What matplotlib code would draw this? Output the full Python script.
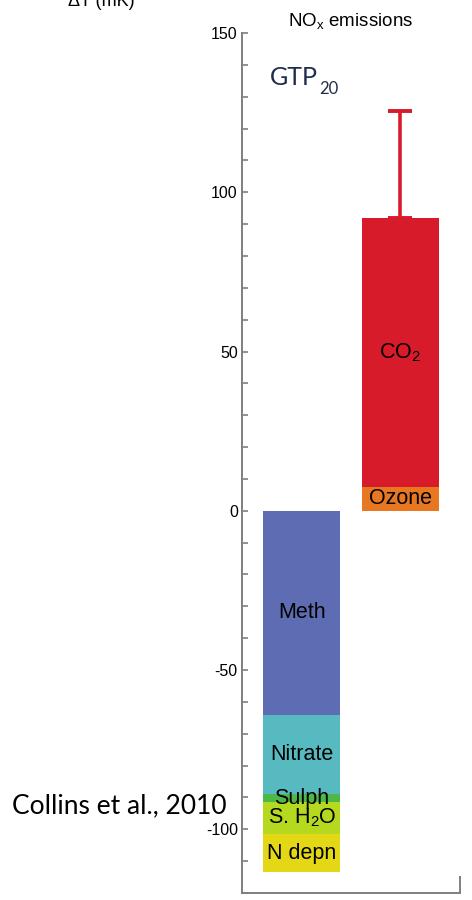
import matplotlib
matplotlib.use("Agg")
import matplotlib.pyplot as plt

# NOx emissions: GTP20 temperature response by component (mK)
neg_labels = ["Meth", "Nitrate", "Sulph", "S. H$_2$O", "N depn"]
neg_values = [-64, -25, -2.5, -10, -12]
neg_colors = ["#5E6DB3", "#58BAC1", "#4DB848", "#B5D91F", "#E4D816"]

pos_labels = ["Ozone", "CO$_2$"]
pos_values = [7.5, 84.5]
pos_colors = ["#E87722", "#D81B2A"]
co2_err_up = 33.5

y_ticks = [-100, -50, 0, 50, 100, 150]

plt.rcParams["font.family"] = ["Liberation Sans", "DejaVu Sans"]
plt.rcParams["mathtext.fontset"] = "custom"
plt.rcParams["mathtext.rm"] = "Liberation Sans"
plt.rcParams["mathtext.it"] = "Liberation Sans"
plt.rcParams["axes.unicode_minus"] = False

fig = plt.figure(figsize=(4.72, 9.0), dpi=100)
ax = fig.add_axes([0.5127, 0.0078, 0.4619, 0.9555])

width = 0.786
gray = "#7F7F7F"


def stack(x, values, labels, colors):
    base = 0.0
    for v, lab, c in zip(values, labels, colors):
        ax.bar(x, v, width=width, bottom=base, color=c, edgecolor="none")
        ax.text(x, base + v / 2, lab, ha="center", va="center",
                fontsize=15.5, color="black")
        base += v
    return base


stack(0, neg_values, neg_labels, neg_colors)
top = stack(1, pos_values, pos_labels, pos_colors)

ax.errorbar(1, top, yerr=[[0], [co2_err_up]], color="#D81B2A",
            elinewidth=2.6, capsize=8.3, capthick=2.8)

ax.set_xlim(-0.61, 1.61)
ax.set_ylim(-120, 150)
ax.set_xticks([])
ax.set_yticks(y_ticks)
ax.set_yticks(range(-120, 151, 10), minor=True)
ax.tick_params(axis="y", which="both", direction="in", color=gray,
               length=4, width=1.2, labelsize=11.5, pad=3)

ax.spines["top"].set_visible(False)
ax.spines["right"].set_bounds(-120, -115)
for s in ("left", "bottom", "right"):
    ax.spines[s].set_color(gray)
    ax.spines[s].set_linewidth(1.4)

ax.set_title("NO$_\\mathrm{x}$ emissions", fontsize=13.5, pad=5)

# GTP label with a small, low subscript
ax.text(0.13, 0.948, "GTP", transform=ax.transAxes, fontsize=18,
        color="#1F2D4D", family=["Lato", "DejaVu Sans"],
        ha="left", va="center")
ax.text(0.352, 0.935, "20", transform=ax.transAxes, fontsize=12,
        color="#1F2D4D", family=["Lato", "DejaVu Sans"],
        ha="left", va="center")

fig.text(0.215, 0.998, "ΔT (mK)", fontsize=13, ha="center", va="center")
fig.text(0.025, 0.105, "Collins et al., 2010", fontsize=19,
         family=["Lato", "DejaVu Sans"], ha="left", va="center")

fig.savefig("out.png", dpi=100)
